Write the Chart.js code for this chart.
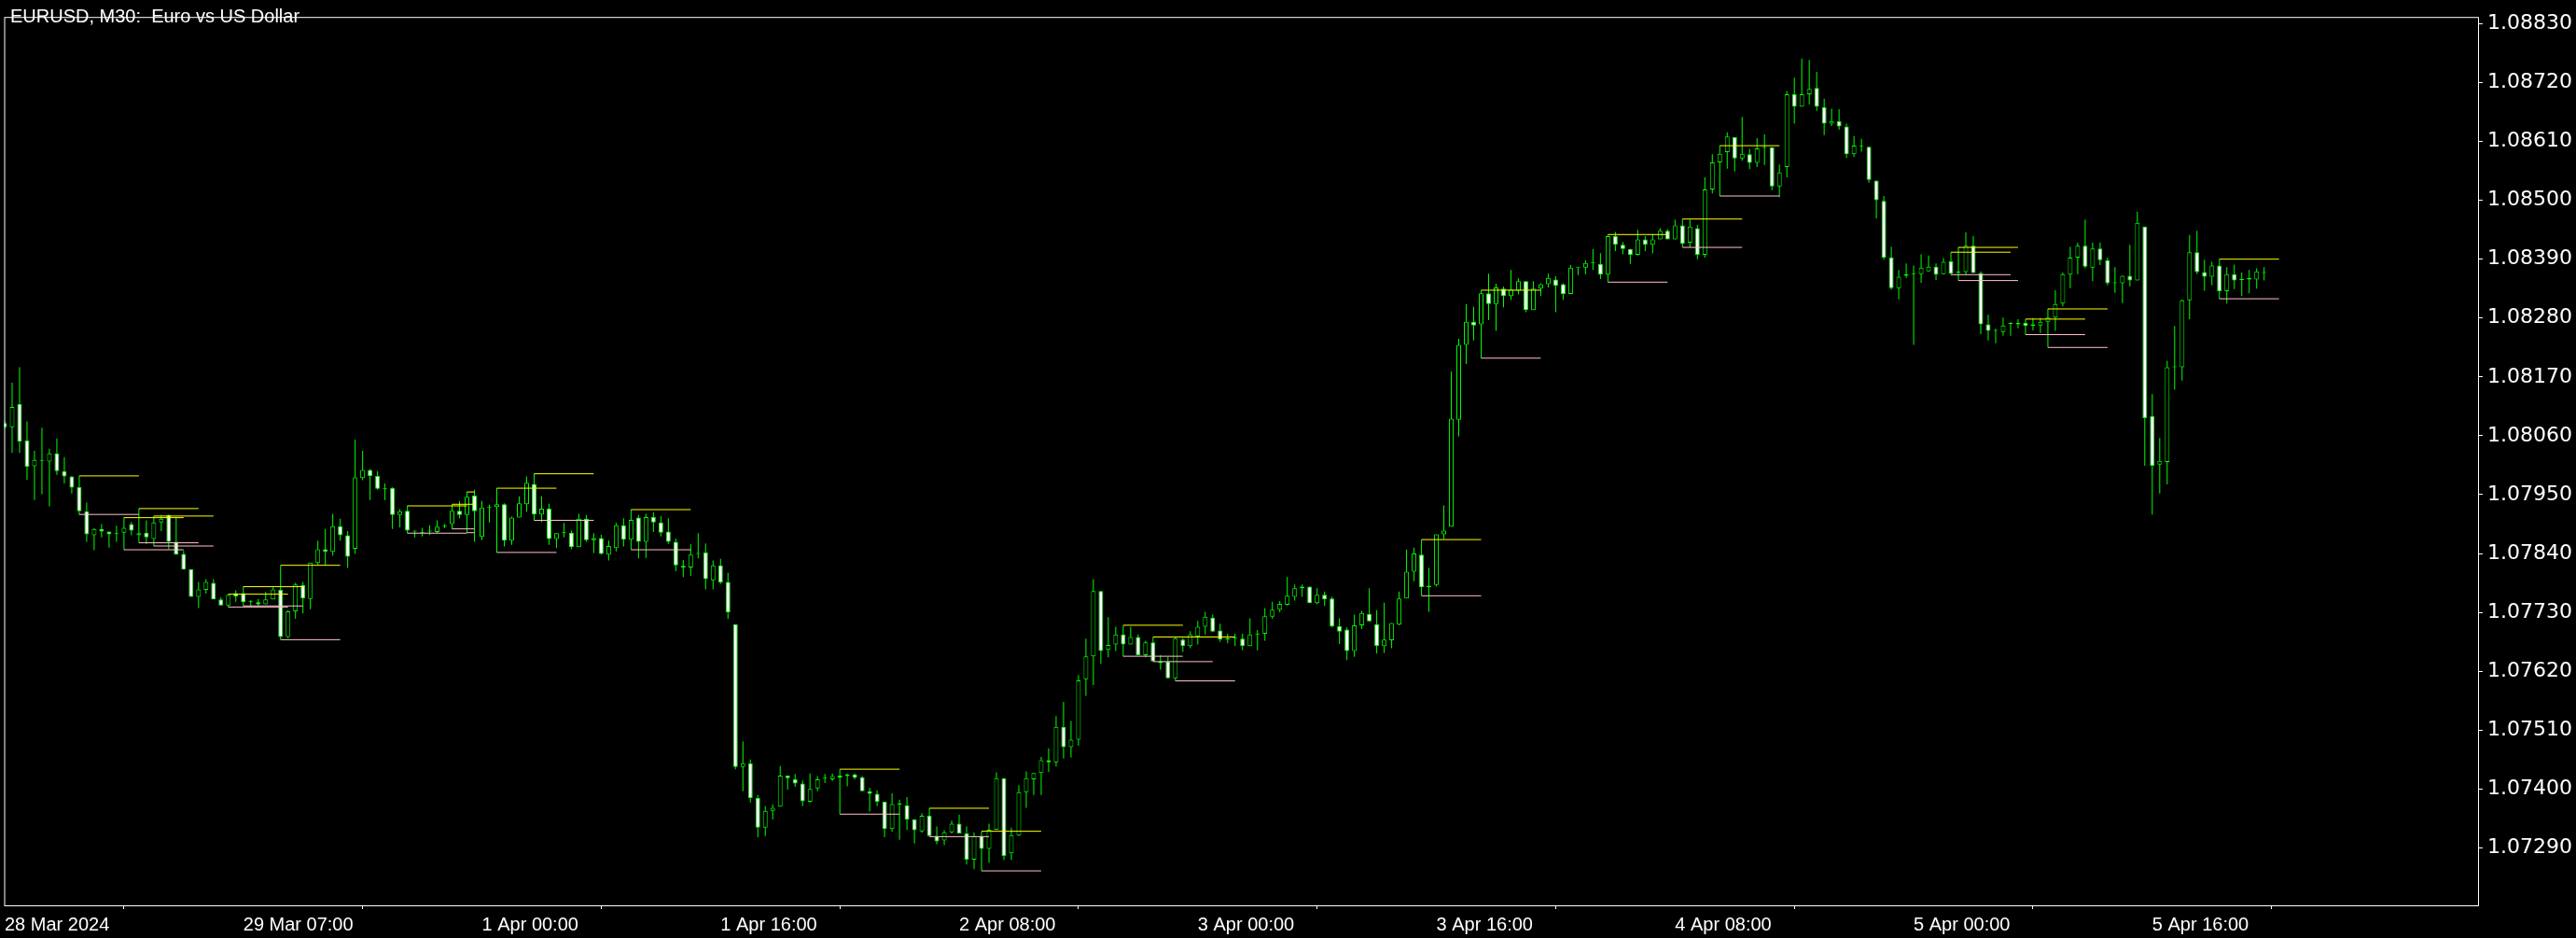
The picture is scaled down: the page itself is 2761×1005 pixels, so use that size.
<!DOCTYPE html>
<html>
<head>
<meta charset="utf-8">
<title>EURUSD M30</title>
<script src="https://cdn.jsdelivr.net/npm/chart.js@4.4.1/dist/chart.umd.min.js"></script>
<style>
  html, body { margin: 0; padding: 0; background: #000; }
  #wrap { width: 2761px; height: 1005px; }
</style>
</head>
<body>
<div id="wrap"><canvas id="chart" width="2761" height="1005"></canvas></div>
<script>
const chartTitle = 'EURUSD, M30:  Euro vs US Dollar';

// time axis labels and the bar index each one sits on
const timeLabels = ['28 Mar 2024', '29 Mar 07:00', '1 Apr 00:00', '1 Apr 16:00', '2 Apr 08:00',
  '3 Apr 00:00', '3 Apr 16:00', '4 Apr 08:00', '5 Apr 00:00', '5 Apr 16:00'];
const timeLabelBars = [0, 32, 64, 96, 128, 160, 192, 224, 256, 288];

const priceTicks = [1.07290, 1.07400, 1.07510, 1.07620, 1.07730, 1.07840, 1.07950, 1.08060,
  1.08170, 1.08280, 1.08390, 1.08500, 1.08610, 1.08720, 1.08830];

// M30 candles
const open = [
  1.08084, 1.08076, 1.08119, 1.08051, 1.08003, 1.08013, 1.08012, 1.08027, 1.07994, 1.07984,
  1.07964, 1.07919, 1.07874, 1.07886, 1.07881, 1.07877, 1.07879, 1.07895, 1.07874, 1.07879,
  1.07867, 1.07898, 1.07912, 1.07862, 1.07839, 1.07811, 1.07759, 1.07772, 1.07785, 1.07754,
  1.07743, 1.07766, 1.07766, 1.07749, 1.07749, 1.07745, 1.07754, 1.07772, 1.07684, 1.07732,
  1.07781, 1.07755, 1.07822, 1.07848, 1.07843, 1.07891, 1.07874, 1.07849, 1.07981, 1.07996,
  1.07985, 1.07960, 1.07962, 1.07912, 1.07920, 1.07881, 1.07879, 1.07881, 1.07880, 1.07890,
  1.07895, 1.07920, 1.07912, 1.07948, 1.07871, 1.07926, 1.07927, 1.07932, 1.07864, 1.07907,
  1.07932, 1.07970, 1.07913, 1.07924, 1.07867, 1.07878, 1.07879, 1.07852, 1.07905, 1.07865,
  1.07869, 1.07838, 1.07850, 1.07893, 1.07866, 1.07907, 1.07862, 1.07908, 1.07898, 1.07881,
  1.07862, 1.07817, 1.07814, 1.07839, 1.07842, 1.07790, 1.07818, 1.07787, 1.07708, 1.07441,
  1.07448, 1.07383, 1.07328, 1.07359, 1.07367, 1.07425, 1.07418, 1.07410, 1.07376, 1.07401,
  1.07420, 1.07418, 1.07425, 1.07424, 1.07427, 1.07422, 1.07396, 1.07391, 1.07376, 1.07325,
  1.07371, 1.07369, 1.07343, 1.07321, 1.07350, 1.07312, 1.07304, 1.07319, 1.07335, 1.07317,
  1.07268, 1.07312, 1.07288, 1.07324, 1.07420, 1.07280, 1.07313, 1.07394, 1.07418, 1.07430,
  1.07454, 1.07450, 1.07516, 1.07478, 1.07492, 1.07605, 1.07648, 1.07770, 1.07660, 1.07670,
  1.07689, 1.07670, 1.07684, 1.07650, 1.07674, 1.07638, 1.07638, 1.07607, 1.07679, 1.07667,
  1.07685, 1.07703, 1.07720, 1.07696, 1.07679, 1.07681, 1.07681, 1.07667, 1.07689, 1.07690,
  1.07722, 1.07735, 1.07744, 1.07759, 1.07778, 1.07778, 1.07747, 1.07763, 1.07756, 1.07704,
  1.07698, 1.07658, 1.07706, 1.07727, 1.07708, 1.07667, 1.07678, 1.07707, 1.07756, 1.07806,
  1.07838, 1.07780, 1.07781, 1.07876, 1.07890, 1.08090, 1.08230, 1.08273, 1.08268, 1.08326,
  1.08306, 1.08335, 1.08321, 1.08331, 1.08349, 1.08295, 1.08335, 1.08343, 1.08352, 1.08343,
  1.08325, 1.08374, 1.08374, 1.08382, 1.08381, 1.08361, 1.08433, 1.08417, 1.08409, 1.08398,
  1.08427, 1.08417, 1.08427, 1.08443, 1.08427, 1.08453, 1.08421, 1.08448, 1.08398, 1.08520,
  1.08571, 1.08590, 1.08618, 1.08578, 1.08586, 1.08570, 1.08598, 1.08599, 1.08526, 1.08562,
  1.08698, 1.08675, 1.08698, 1.08710, 1.08674, 1.08643, 1.08648, 1.08638, 1.08586, 1.08601,
  1.08600, 1.08537, 1.08499, 1.08393, 1.08336, 1.08362, 1.08362, 1.08362, 1.08367, 1.08376,
  1.08362, 1.08386, 1.08365, 1.08366, 1.08415, 1.08364, 1.08268, 1.08256, 1.08254, 1.08269,
  1.08268, 1.08271, 1.08265, 1.08266, 1.08273, 1.08281, 1.08307, 1.08361, 1.08393, 1.08415,
  1.08374, 1.08410, 1.08388, 1.08345, 1.08345, 1.08359, 1.08350, 1.08451, 1.08097, 1.08006,
  1.08011, 1.08188, 1.08188, 1.08313, 1.08403, 1.08366, 1.08357, 1.08378, 1.08330, 1.08362,
  1.08351, 1.08352, 1.08352, 1.08364
];
const high = [
  1.08088, 1.08159, 1.08188, 1.08087, 1.08032, 1.08075, 1.08036, 1.08055, 1.08020, 1.07985,
  1.07985, 1.07935, 1.07887, 1.07895, 1.07881, 1.07892, 1.07907, 1.07899, 1.07924, 1.07902,
  1.07910, 1.07912, 1.07913, 1.07907, 1.07845, 1.07811, 1.07787, 1.07792, 1.07792, 1.07758,
  1.07764, 1.07771, 1.07778, 1.07753, 1.07755, 1.07768, 1.07777, 1.07818, 1.07734, 1.07785,
  1.07787, 1.07823, 1.07864, 1.07886, 1.07914, 1.07905, 1.07882, 1.08053, 1.08032, 1.07998,
  1.07994, 1.07971, 1.07964, 1.07923, 1.07929, 1.07883, 1.07888, 1.07893, 1.07902, 1.07895,
  1.07932, 1.07938, 1.07955, 1.07959, 1.07938, 1.07931, 1.07962, 1.07934, 1.07909, 1.07947,
  1.07984, 1.07989, 1.07947, 1.07933, 1.07878, 1.07897, 1.07883, 1.07914, 1.07912, 1.07878,
  1.07875, 1.07864, 1.07897, 1.07906, 1.07922, 1.07912, 1.07914, 1.07917, 1.07910, 1.07906,
  1.07868, 1.07828, 1.07858, 1.07878, 1.07859, 1.07827, 1.07830, 1.07804, 1.07708, 1.07489,
  1.07455, 1.07389, 1.07368, 1.07371, 1.07443, 1.07425, 1.07428, 1.07416, 1.07429, 1.07424,
  1.07428, 1.07429, 1.07437, 1.07429, 1.07429, 1.07424, 1.07402, 1.07397, 1.07376, 1.07392,
  1.07380, 1.07385, 1.07343, 1.07355, 1.07364, 1.07330, 1.07323, 1.07341, 1.07352, 1.07330,
  1.07319, 1.07321, 1.07335, 1.07431, 1.07420, 1.07328, 1.07407, 1.07433, 1.07430, 1.07460,
  1.07476, 1.07536, 1.07563, 1.07527, 1.07613, 1.07681, 1.07792, 1.07770, 1.07721, 1.07703,
  1.07706, 1.07703, 1.07689, 1.07677, 1.07684, 1.07650, 1.07647, 1.07684, 1.07682, 1.07695,
  1.07714, 1.07731, 1.07726, 1.07709, 1.07690, 1.07690, 1.07690, 1.07719, 1.07697, 1.07738,
  1.07750, 1.07751, 1.07796, 1.07782, 1.07782, 1.07778, 1.07775, 1.07769, 1.07759, 1.07719,
  1.07702, 1.07726, 1.07733, 1.07775, 1.07734, 1.07748, 1.07710, 1.07769, 1.07847, 1.07851,
  1.07866, 1.07813, 1.07876, 1.07930, 1.08180, 1.08241, 1.08306, 1.08301, 1.08332, 1.08363,
  1.08344, 1.08339, 1.08370, 1.08354, 1.08349, 1.08349, 1.08345, 1.08363, 1.08358, 1.08345,
  1.08379, 1.08374, 1.08388, 1.08409, 1.08401, 1.08436, 1.08441, 1.08422, 1.08409, 1.08445,
  1.08433, 1.08437, 1.08448, 1.08446, 1.08464, 1.08465, 1.08464, 1.08454, 1.08543, 1.08586,
  1.08602, 1.08627, 1.08618, 1.08656, 1.08596, 1.08616, 1.08623, 1.08599, 1.08567, 1.08704,
  1.08729, 1.08765, 1.08762, 1.08740, 1.08690, 1.08671, 1.08670, 1.08643, 1.08620, 1.08615,
  1.08600, 1.08537, 1.08508, 1.08413, 1.08370, 1.08382, 1.08378, 1.08399, 1.08397, 1.08382,
  1.08392, 1.08403, 1.08412, 1.08440, 1.08433, 1.08367, 1.08286, 1.08260, 1.08281, 1.08272,
  1.08278, 1.08278, 1.08280, 1.08280, 1.08297, 1.08332, 1.08365, 1.08413, 1.08421, 1.08464,
  1.08421, 1.08421, 1.08393, 1.08375, 1.08359, 1.08417, 1.08479, 1.08451, 1.08138, 1.08056,
  1.08200, 1.08265, 1.08315, 1.08435, 1.08443, 1.08389, 1.08385, 1.08390, 1.08375, 1.08380,
  1.08365, 1.08370, 1.08373, 1.08375
];
const low = [
  1.08073, 1.08028, 1.08028, 1.07978, 1.07940, 1.07951, 1.07928, 1.07987, 1.07971, 1.07952,
  1.07913, 1.07862, 1.07846, 1.07870, 1.07851, 1.07862, 1.07847, 1.07874, 1.07860, 1.07858,
  1.07854, 1.07882, 1.07848, 1.07838, 1.07810, 1.07759, 1.07738, 1.07765, 1.07754, 1.07743,
  1.07740, 1.07750, 1.07742, 1.07742, 1.07742, 1.07745, 1.07754, 1.07679, 1.07682, 1.07718,
  1.07728, 1.07736, 1.07818, 1.07818, 1.07836, 1.07864, 1.07813, 1.07839, 1.07977, 1.07940,
  1.07959, 1.07940, 1.07886, 1.07889, 1.07878, 1.07870, 1.07872, 1.07875, 1.07878, 1.07887,
  1.07886, 1.07906, 1.07879, 1.07862, 1.07865, 1.07898, 1.07842, 1.07853, 1.07856, 1.07907,
  1.07918, 1.07902, 1.07899, 1.07856, 1.07850, 1.07870, 1.07848, 1.07852, 1.07862, 1.07841,
  1.07838, 1.07827, 1.07844, 1.07853, 1.07847, 1.07831, 1.07832, 1.07880, 1.07872, 1.07858,
  1.07807, 1.07796, 1.07798, 1.07831, 1.07773, 1.07773, 1.07783, 1.07718, 1.07437, 1.07396,
  1.07375, 1.07310, 1.07312, 1.07343, 1.07367, 1.07399, 1.07404, 1.07368, 1.07375, 1.07396,
  1.07411, 1.07415, 1.07353, 1.07405, 1.07418, 1.07396, 1.07358, 1.07368, 1.07310, 1.07320,
  1.07305, 1.07324, 1.07298, 1.07318, 1.07311, 1.07297, 1.07295, 1.07317, 1.07317, 1.07259,
  1.07250, 1.07247, 1.07262, 1.07324, 1.07267, 1.07267, 1.07312, 1.07365, 1.07389, 1.07389,
  1.07432, 1.07442, 1.07457, 1.07459, 1.07481, 1.07574, 1.07594, 1.07634, 1.07646, 1.07658,
  1.07648, 1.07670, 1.07650, 1.07646, 1.07638, 1.07623, 1.07607, 1.07602, 1.07656, 1.07663,
  1.07670, 1.07689, 1.07693, 1.07675, 1.07672, 1.07667, 1.07659, 1.07667, 1.07659, 1.07677,
  1.07718, 1.07730, 1.07743, 1.07752, 1.07759, 1.07747, 1.07745, 1.07742, 1.07702, 1.07671,
  1.07641, 1.07647, 1.07699, 1.07713, 1.07653, 1.07654, 1.07663, 1.07706, 1.07756, 1.07788,
  1.07761, 1.07731, 1.07778, 1.07867, 1.07890, 1.08059, 1.08194, 1.08238, 1.08205, 1.08276,
  1.08256, 1.08300, 1.08314, 1.08324, 1.08291, 1.08295, 1.08321, 1.08337, 1.08291, 1.08314,
  1.08325, 1.08360, 1.08362, 1.08370, 1.08353, 1.08347, 1.08405, 1.08399, 1.08381, 1.08397,
  1.08405, 1.08401, 1.08427, 1.08427, 1.08427, 1.08412, 1.08412, 1.08390, 1.08393, 1.08513,
  1.08508, 1.08559, 1.08554, 1.08574, 1.08558, 1.08562, 1.08566, 1.08519, 1.08506, 1.08543,
  1.08643, 1.08675, 1.08679, 1.08667, 1.08622, 1.08639, 1.08632, 1.08579, 1.08581, 1.08591,
  1.08533, 1.08466, 1.08389, 1.08333, 1.08315, 1.08355, 1.08230, 1.08346, 1.08367, 1.08351,
  1.08362, 1.08361, 1.08350, 1.08361, 1.08364, 1.08250, 1.08238, 1.08233, 1.08247, 1.08247,
  1.08261, 1.08249, 1.08257, 1.08252, 1.08225, 1.08256, 1.08302, 1.08336, 1.08362, 1.08373,
  1.08349, 1.08379, 1.08341, 1.08327, 1.08308, 1.08339, 1.08350, 1.08004, 1.07913, 1.07952,
  1.07969, 1.08146, 1.08163, 1.08278, 1.08362, 1.08331, 1.08341, 1.08316, 1.08307, 1.08334,
  1.08321, 1.08326, 1.08335, 1.08350
];
const close = [
  1.08076, 1.08114, 1.08049, 1.08002, 1.08015, 1.08013, 1.08027, 1.07994, 1.07984, 1.07963,
  1.07919, 1.07876, 1.07886, 1.07881, 1.07876, 1.07877, 1.07888, 1.07883, 1.07878, 1.07870,
  1.07898, 1.07905, 1.07862, 1.07838, 1.07810, 1.07759, 1.07773, 1.07787, 1.07754, 1.07743,
  1.07763, 1.07760, 1.07749, 1.07749, 1.07745, 1.07754, 1.07773, 1.07684, 1.07732, 1.07782,
  1.07756, 1.07823, 1.07848, 1.07843, 1.07891, 1.07874, 1.07834, 1.07982, 1.07996, 1.07985,
  1.07961, 1.07960, 1.07912, 1.07919, 1.07883, 1.07881, 1.07879, 1.07881, 1.07890, 1.07890,
  1.07920, 1.07912, 1.07946, 1.07919, 1.07926, 1.07926, 1.07932, 1.07864, 1.07907, 1.07934,
  1.07972, 1.07913, 1.07924, 1.07867, 1.07878, 1.07878, 1.07852, 1.07905, 1.07865, 1.07869,
  1.07839, 1.07854, 1.07893, 1.07866, 1.07903, 1.07862, 1.07908, 1.07898, 1.07879, 1.07862,
  1.07818, 1.07814, 1.07838, 1.07839, 1.07792, 1.07818, 1.07786, 1.07730, 1.07441, 1.07448,
  1.07383, 1.07328, 1.07359, 1.07365, 1.07425, 1.07420, 1.07410, 1.07377, 1.07400, 1.07418,
  1.07420, 1.07424, 1.07421, 1.07427, 1.07421, 1.07396, 1.07391, 1.07376, 1.07325, 1.07372,
  1.07371, 1.07343, 1.07323, 1.07350, 1.07312, 1.07302, 1.07319, 1.07335, 1.07317, 1.07268,
  1.07312, 1.07288, 1.07324, 1.07420, 1.07275, 1.07314, 1.07394, 1.07420, 1.07430, 1.07454,
  1.07450, 1.07516, 1.07478, 1.07492, 1.07603, 1.07648, 1.07770, 1.07658, 1.07669, 1.07689,
  1.07670, 1.07684, 1.07650, 1.07674, 1.07638, 1.07635, 1.07607, 1.07682, 1.07667, 1.07689,
  1.07703, 1.07722, 1.07694, 1.07679, 1.07682, 1.07681, 1.07667, 1.07689, 1.07689, 1.07723,
  1.07735, 1.07746, 1.07761, 1.07775, 1.07775, 1.07747, 1.07763, 1.07754, 1.07704, 1.07694,
  1.07658, 1.07706, 1.07729, 1.07713, 1.07667, 1.07679, 1.07710, 1.07756, 1.07806, 1.07840,
  1.07777, 1.07777, 1.07876, 1.07883, 1.08092, 1.08230, 1.08273, 1.08266, 1.08326, 1.08306,
  1.08337, 1.08321, 1.08333, 1.08349, 1.08295, 1.08335, 1.08343, 1.08355, 1.08340, 1.08325,
  1.08374, 1.08374, 1.08383, 1.08382, 1.08361, 1.08433, 1.08417, 1.08409, 1.08398, 1.08427,
  1.08417, 1.08427, 1.08443, 1.08427, 1.08453, 1.08419, 1.08451, 1.08398, 1.08520, 1.08571,
  1.08587, 1.08619, 1.08578, 1.08587, 1.08570, 1.08597, 1.08598, 1.08526, 1.08552, 1.08698,
  1.08675, 1.08698, 1.08708, 1.08675, 1.08643, 1.08648, 1.08638, 1.08586, 1.08602, 1.08601,
  1.08538, 1.08500, 1.08393, 1.08336, 1.08357, 1.08359, 1.08362, 1.08374, 1.08376, 1.08361,
  1.08385, 1.08363, 1.08365, 1.08415, 1.08364, 1.08268, 1.08256, 1.08256, 1.08266, 1.08269,
  1.08271, 1.08265, 1.08268, 1.08273, 1.08281, 1.08306, 1.08362, 1.08393, 1.08415, 1.08376,
  1.08410, 1.08388, 1.08345, 1.08345, 1.08359, 1.08350, 1.08458, 1.08093, 1.08004, 1.08013,
  1.08188, 1.08188, 1.08313, 1.08403, 1.08366, 1.08357, 1.08378, 1.08330, 1.08362, 1.08350,
  1.08351, 1.08355, 1.08367, 1.08364
];

// indicator levels: high (yellow) and low (pink) of a marked bar, drawn forward to another bar
const markStart = [10, 16, 18, 20, 30, 32, 37, 54, 60, 62, 66, 71, 84, 112, 124, 131, 150, 154, 157,
  190, 198, 215, 225, 230, 261, 262, 271, 274, 297];
const markEnd = [18, 24, 26, 28, 38, 40, 45, 62, 63, 63, 74, 79, 92, 120, 132, 139, 158, 162, 165,
  198, 206, 223, 233, 238, 269, 270, 279, 282, 305];

const UP = '#00ff00';

function levelLine(src) {
  const pts = [];
  markStart.forEach((s, k) => {
    pts.push({ x: s, y: src[s] }, { x: markEnd[k], y: src[s] }, { x: markEnd[k], y: null });
  });
  return pts;
}

const wicks = open.map((_, i) => ({ x: i, y: [low[i], high[i]] }));
const bodies = open.map((o, i) => ({ x: i, y: [Math.min(o, close[i]), Math.max(o, close[i])] }));

// white frame around the price area + the symbol caption
const framePlugin = {
  id: 'frame',
  afterDraw(chart) {
    const { ctx, chartArea: a } = chart;
    ctx.save();
    ctx.strokeStyle = '#ffffff';
    ctx.lineWidth = 1;
    ctx.strokeRect(a.left + 0.5, a.top + 0.5, a.right - a.left - 1, a.bottom - a.top);
    ctx.fillStyle = '#ffffff';
    ctx.font = '20px "Liberation Sans", Arial, sans-serif';
    ctx.textBaseline = 'top';
    ctx.fillText(chartTitle, 11, 8);
    ctx.restore();
  }
};

const ctx = document.getElementById('chart').getContext('2d');
const chart = new Chart(ctx, {
  type: 'bar',
  data: {
    datasets: [
      {
        type: 'line',
        data: levelLine(high),
        borderColor: '#ffff00',
        borderWidth: 1,
        pointRadius: 0,
        spanGaps: false,
        order: 0
      },
      {
        type: 'line',
        data: levelLine(low),
        borderColor: '#ffc0cb',
        borderWidth: 1,
        pointRadius: 0,
        spanGaps: false,
        order: 0
      },
      {
        data: bodies,
        grouped: false,
        barThickness: 5,
        minBarLength: 1,
        borderWidth: 1,
        borderSkipped: false,
        inflateAmount: 0,
        borderColor: UP,
        backgroundColor: c => close[c.dataIndex] < open[c.dataIndex] ? '#ffffff' : '#000000',
        order: 1
      },
      {
        data: wicks,
        grouped: false,
        barThickness: 1,
        minBarLength: 1,
        borderWidth: 0,
        inflateAmount: 0,
        backgroundColor: UP,
        order: 2
      }
    ]
  },
  options: {
    responsive: false,
    devicePixelRatio: 1,
    animation: false,
    events: [],
    layout: { padding: { left: 2, top: 1, right: 0, bottom: 0 } },
    plugins: { legend: { display: false }, tooltip: { enabled: false }, title: { display: false } },
    scales: {
      x: {
        type: 'linear',
        min: -0.0625,
        max: 331.8125,
        offset: false,
        border: { display: false },
        grid: { drawOnChartArea: false, drawTicks: true, tickLength: 4, color: '#ffffff' },
        ticks: {
          color: '#ffffff',
          font: { family: '"Liberation Sans", Arial, sans-serif', size: 20 },
          align: 'start',
          autoSkip: false,
          maxRotation: 0,
          padding: 5,
          callback: v => timeLabels[timeLabelBars.indexOf(v)]
        },
        afterBuildTicks: s => { s.ticks = timeLabelBars.map(v => ({ value: v })); },
        afterFit: s => { s.height = 35; }
      },
      y: {
        position: 'right',
        min: 1.071826,
        max: 1.088425,
        border: { display: false },
        grid: { drawOnChartArea: false, drawTicks: true, tickLength: 4, color: '#ffffff' },
        ticks: {
          color: '#ffffff',
          font: { family: '"DejaVu Sans", sans-serif', size: 22 },
          padding: 5,
          callback: v => v.toFixed(5)
        },
        afterBuildTicks: s => { s.ticks = priceTicks.map(v => ({ value: v })); },
        afterFit: s => { s.width = 104; }
      }
    }
  },
  plugins: [framePlugin]
});
</script>
</body>
</html>
